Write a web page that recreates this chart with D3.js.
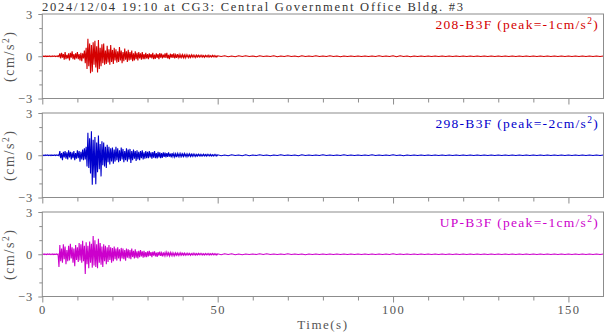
<!DOCTYPE html>
<html><head><meta charset="utf-8">
<script src="https://cdn.jsdelivr.net/npm/d3@7"></script>
<style>
body{margin:0;background:#fff}
svg{display:block}
text{font-family:"Liberation Serif","Times New Roman",serif}
</style>
</head><body>
<svg id="c" width="605" height="334"></svg>
<script>
const title = "2024/12/04 19:10 at CG3: Central Government Office Bldg. #3";
const channels = ["208-B3F", "298-B3F", "UP-B3F"];
const peaks = ["-1", "-2", "-1"];
const colors = ["#d40000", "#0000cc", "#cc00cc"];
const xTicks = [0, 50, 100, 150];
const yTicks = [-3, 0, 3];
const yMinor = [-2, -1, 1, 2];
const unitLabel = "(cm/s";
const xLabel = "Time(s)";

// sampled extremes (cm/s^2): 0..49.75 s every 0.25 s, then 50..160 s every 1 s
const strongStep = 0.25, tailStart = 50, tailStep = 1;

const acc208Strong = [
  0.02,-0.01,0.01,-0.02,0.02,-0.02,0.01,-0.01,0.02,-0.02,0.01,-0.02,0.02,-0.01,0.02,-0.02,0.01,-0.02,0.03,-0.03,
  0.2,-0.15,0.25,-0.1,0.15,-0.25,0.3,-0.2,0.1,-0.15,0.2,-0.3,0.25,-0.1,0.35,-0.2,0.15,-0.25,0.2,-0.15,
  0.3,-0.2,0.15,-0.3,0.25,-0.35,0.2,-0.15,0.4,-0.5,0.6,-0.9,1.25,-0.7,0.9,-1.2,0.8,-1.1,1.0,-0.6,
  1.1,-0.8,0.7,-1.15,1.15,-0.9,0.6,-0.7,0.85,-0.5,0.9,-0.6,0.4,-0.55,0.75,-0.45,0.5,-0.6,0.8,-0.4,
  0.45,-0.55,0.6,-0.3,0.5,-0.45,0.35,-0.4,0.65,-0.3,0.4,-0.5,0.3,-0.35,0.55,-0.25,0.35,-0.4,0.45,-0.3,
  0.3,-0.25,0.4,-0.35,0.2,-0.3,0.35,-0.2,0.25,-0.3,0.3,-0.15,0.2,-0.25,0.3,-0.2,0.15,-0.2,0.25,-0.15,
  0.15,-0.2,0.2,-0.1,0.15,-0.15,0.25,-0.2,0.12,-0.18,0.2,-0.12,0.15,-0.2,0.22,-0.1,0.18,-0.15,0.12,-0.1,
  0.2,-0.12,0.25,-0.15,0.1,-0.2,0.18,-0.1,0.15,-0.12,0.2,-0.15,0.1,-0.12,0.15,-0.1,0.12,-0.14,0.1,-0.08,
  0.12,-0.1,0.08,-0.12,0.1,-0.06,0.09,-0.1,0.07,-0.08,0.1,-0.06,0.08,-0.07,0.06,-0.09,0.08,-0.05,0.07,-0.06,
  0.06,-0.05,0.07,-0.06,0.05,-0.07,0.06,-0.04,0.05,-0.06,0.07,-0.05,0.04,-0.05,0.06,-0.04,0.05,-0.05,0.04,-0.05
];
const acc208Tail = [
  0.03,-0.02,0.03,-0.03,0.02,-0.03,0.03,-0.02,0.03,-0.02,
  0.02,-0.03,0.03,-0.02,0.02,-0.02,0.03,-0.03,0.02,-0.02,
  0.03,-0.02,0.02,-0.03,0.03,-0.02,0.02,-0.02,0.03,-0.02,
  0.02,-0.02,0.03,-0.02,0.02,-0.03,0.02,-0.02,0.02,-0.02,
  0.02,-0.02,0.02,-0.02,0.02,-0.02,0.03,-0.02,0.02,-0.02,
  0.03,-0.03,0.03,-0.02,0.02,-0.03,0.02,-0.02,0.02,-0.02,
  0.02,-0.02,0.02,-0.02,0.02,-0.02,0.02,-0.02,0.02,-0.02,
  0.02,-0.02,0.02,-0.02,0.02,-0.02,0.02,-0.02,0.02,-0.02,
  0.02,-0.02,0.02,-0.02,0.02,-0.02,0.02,-0.02,0.02,-0.02,
  0.02,-0.02,0.02,-0.02,0.02,-0.02,0.02,-0.02,0.02,-0.02,
  0.02,-0.02,0.02,-0.02,0.02,-0.02,0.02,-0.02,0.02,-0.02,
  0.02
];
const acc298Strong = [
  0.02,-0.02,0.01,-0.02,0.02,-0.01,0.02,-0.02,0.01,-0.02,0.02,-0.02,0.01,-0.01,0.02,-0.02,0.02,-0.01,0.02,-0.03,
  0.3,-0.2,0.15,-0.35,0.25,-0.15,0.3,-0.25,0.2,-0.3,0.35,-0.15,0.25,-0.3,0.2,-0.2,0.3,-0.35,0.15,-0.25,
  0.35,-0.2,0.3,-0.45,0.25,-0.3,0.4,-0.35,0.5,-0.3,0.6,-0.8,1.6,-0.9,1.2,-1.3,1.7,-2.1,1.1,-1.6,
  1.3,-2.05,0.9,-1.2,1.4,-1.0,0.8,-1.5,1.0,-0.7,0.9,-0.8,0.6,-0.9,0.75,-0.5,0.6,-0.65,0.5,-0.45,
  0.55,-0.6,0.4,-0.45,0.6,-0.35,0.5,-0.5,0.35,-0.4,0.55,-0.3,0.45,-0.5,0.3,-0.35,0.5,-0.45,0.4,-0.3,
  0.45,-0.55,0.3,-0.35,0.4,-0.25,0.3,-0.4,0.35,-0.3,0.25,-0.35,0.3,-0.2,0.35,-0.3,0.2,-0.25,0.3,-0.2,
  0.25,-0.2,0.3,-0.15,0.2,-0.25,0.22,-0.18,0.3,-0.2,0.15,-0.22,0.25,-0.15,0.2,-0.2,0.15,-0.18,0.2,-0.12,
  0.18,-0.15,0.15,-0.12,0.2,-0.1,0.12,-0.15,0.15,-0.1,0.12,-0.12,0.1,-0.14,0.12,-0.08,0.1,-0.1,0.12,-0.08,
  0.1,-0.08,0.12,-0.07,0.08,-0.1,0.09,-0.06,0.1,-0.08,0.07,-0.07,0.08,-0.06,0.07,-0.08,0.06,-0.06,0.07,-0.05,
  0.06,-0.06,0.05,-0.05,0.07,-0.05,0.05,-0.06,0.06,-0.04,0.05,-0.05,0.06,-0.05,0.04,-0.05,0.05,-0.04,0.05,-0.05
];
const acc298Tail = [
  0.03,-0.03,0.02,-0.03,0.03,-0.02,0.02,-0.03,0.03,-0.03,
  0.02,-0.02,0.03,-0.02,0.02,-0.03,0.02,-0.02,0.03,-0.02,
  0.02,-0.02,0.02,-0.03,0.03,-0.02,0.02,-0.02,0.02,-0.02,
  0.03,-0.02,0.02,-0.02,0.02,-0.02,0.03,-0.02,0.02,-0.02,
  0.02,-0.02,0.02,-0.02,0.03,-0.02,0.02,-0.02,0.02,-0.02,
  0.03,-0.02,0.02,-0.03,0.02,-0.02,0.02,-0.02,0.02,-0.02,
  0.02,-0.02,0.02,-0.02,0.02,-0.02,0.02,-0.02,0.02,-0.02,
  0.02,-0.02,0.02,-0.02,0.02,-0.02,0.02,-0.02,0.02,-0.02,
  0.02,-0.02,0.02,-0.02,0.02,-0.02,0.02,-0.02,0.02,-0.02,
  0.02,-0.02,0.02,-0.02,0.02,-0.02,0.02,-0.02,0.02,-0.02,
  0.02,-0.02,0.02,-0.02,0.02,-0.02,0.02,-0.02,0.02,-0.02,
  0.02
];
const accUPStrong = [
  0.02,-0.01,0.02,-0.02,0.01,-0.02,0.02,-0.01,0.02,-0.02,0.01,-0.02,0.02,-0.02,0.01,-0.01,0.02,-0.02,0.01,-0.9,
  0.65,-0.5,0.4,-0.6,0.7,-0.35,0.55,-0.7,0.3,-0.5,0.6,-0.45,0.75,-0.3,0.5,-0.6,0.4,-0.85,0.65,-0.4,
  0.5,-0.55,0.8,-0.45,0.7,-0.6,0.95,-0.5,0.6,-1.4,0.85,-0.7,0.6,-1.0,0.9,-0.6,0.75,-0.95,1.3,-0.8,
  1.0,-0.9,0.7,-1.0,1.1,-0.6,0.8,-0.75,0.55,-0.9,0.7,-0.5,0.6,-0.7,0.5,-0.55,0.65,-0.4,0.5,-0.6,
  0.45,-0.5,0.55,-0.35,0.4,-0.45,0.5,-0.3,0.35,-0.5,0.45,-0.3,0.4,-0.35,0.3,-0.45,0.4,-0.25,0.35,-0.3,
  0.3,-0.35,0.4,-0.2,0.25,-0.3,0.35,-0.25,0.2,-0.3,0.25,-0.2,0.3,-0.15,0.2,-0.25,0.25,-0.2,0.15,-0.2,
  0.2,-0.15,0.25,-0.12,0.15,-0.2,0.18,-0.1,0.2,-0.15,0.12,-0.18,0.15,-0.1,0.18,-0.12,0.1,-0.15,0.14,-0.1,
  0.12,-0.1,0.15,-0.08,0.1,-0.12,0.12,-0.08,0.1,-0.1,0.08,-0.1,0.1,-0.07,0.09,-0.08,0.08,-0.07,0.1,-0.06,
  0.07,-0.06,0.08,-0.07,0.06,-0.06,0.07,-0.05,0.06,-0.07,0.05,-0.05,0.07,-0.05,0.06,-0.06,0.05,-0.05,0.06,-0.04,
  0.05,-0.04,0.05,-0.05,0.04,-0.05,0.05,-0.04,0.04,-0.04,0.05,-0.05,0.04,-0.04,0.05,-0.04,0.04,-0.04,0.04,-0.05
];
const accUPTail = [
  0.03,-0.03,0.03,-0.02,0.03,-0.03,0.02,-0.03,0.02,-0.02,
  0.02,-0.02,0.03,-0.02,0.03,-0.02,0.02,-0.02,0.02,-0.02,
  0.03,-0.02,0.02,-0.02,0.02,-0.03,0.02,-0.02,0.02,-0.02,
  0.02,-0.02,0.02,-0.02,0.02,-0.02,0.02,-0.02,0.02,-0.02,
  0.02,-0.02,0.02,-0.02,0.02,-0.02,0.02,-0.02,0.02,-0.02,
  0.03,-0.02,0.02,-0.02,0.02,-0.02,0.02,-0.02,0.02,-0.02,
  0.02,-0.02,0.02,-0.02,0.02,-0.02,0.02,-0.02,0.02,-0.02,
  0.02,-0.02,0.02,-0.02,0.02,-0.02,0.02,-0.02,0.02,-0.02,
  0.02,-0.02,0.02,-0.02,0.02,-0.02,0.02,-0.02,0.02,-0.02,
  0.02,-0.02,0.02,-0.02,0.02,-0.02,0.02,-0.02,0.02,-0.02,
  0.02,-0.02,0.02,-0.02,0.02,-0.02,0.02,-0.02,0.02,-0.02,
  0.02
];

const strongSeries = [acc208Strong, acc298Strong, accUPStrong];
const tailSeries = [acc208Tail, acc298Tail, accUPTail];

const svg = d3.select("#c");
const left = 42.3, right = 603.5;
const panelTop0 = 14, panelGap = 99, panelH = 84.5;
const x = d3.scaleLinear().domain([0, 160]).range([left, right]);
const frameColor = "#8c8c8c", textColor = "#555";

svg.append("text")
  .attr("x", 42).attr("y", 10.5)
  .attr("font-size", 12.5).attr("fill", "#333")
  .attr("textLength", 421).attr("lengthAdjust", "spacing")
  .text(title);

channels.forEach((name, i) => {
  const top = panelTop0 + i * panelGap, bottom = top + panelH;
  const y = d3.scaleLinear().domain([-3, 3]).range([bottom, top]);
  const g = svg.append("g");

  const pts = strongSeries[i].map((v, k) => [k * strongStep, v])
    .concat(tailSeries[i].map((v, k) => [tailStart + k * tailStep, v]));
  const line = d3.line().x(d => x(d[0])).y(d => y(d[1]));
  g.append("path").datum(pts)
    .attr("d", line).attr("fill", "none")
    .attr("stroke", colors[i]).attr("stroke-width", 1.1)
    .attr("stroke-linejoin", "miter");

  g.append("rect")
    .attr("x", left).attr("y", top)
    .attr("width", right - left).attr("height", panelH)
    .attr("fill", "none").attr("stroke", frameColor).attr("stroke-width", 1);

  const minorX = d3.range(10, 160, 10).filter(v => v % 50 !== 0);
  const gxm = g.append("g").attr("transform", `translate(0,${bottom})`)
    .call(d3.axisBottom(x).tickValues(minorX).tickSize(4).tickFormat(""));
  const gx = g.append("g").attr("transform", `translate(0,${bottom})`)
    .call(d3.axisBottom(x).tickValues(xTicks).tickSize(6).tickPadding(3)
      .tickFormat(i === 2 ? d3.format("d") : ""));
  [gxm, gx].forEach(a => {
    a.select(".domain").remove();
    a.selectAll("line").attr("stroke", frameColor);
    a.selectAll("text").attr("font-size", 12.5).attr("fill", textColor)
      .attr("font-family", '"Liberation Serif",serif').attr("letter-spacing", 1.4);
  });

  const gym = g.append("g").attr("transform", `translate(${left},0)`)
    .call(d3.axisLeft(y).tickValues(yMinor).tickSize(3).tickFormat(""));
  const gy = g.append("g").attr("transform", `translate(${left},0)`)
    .call(d3.axisLeft(y).tickValues(yTicks).tickSize(4).tickPadding(5).tickFormat(d3.format("d")));
  [gym, gy].forEach(a => {
    a.select(".domain").remove();
    a.selectAll("line").attr("stroke", frameColor);
    a.selectAll("text").attr("font-size", 12.5).attr("fill", textColor)
      .attr("font-family", '"Liberation Serif",serif').attr("letter-spacing", 1);
  });

  const ul = g.append("text")
    .attr("transform", `translate(14,${(top + bottom) / 2}) rotate(-90)`)
    .attr("text-anchor", "middle").attr("font-size", 14)
    .attr("fill", textColor).attr("letter-spacing", 1.6);
  ul.append("tspan").text(unitLabel);
  ul.append("tspan").attr("font-size", 9.5).attr("dy", -5).text("2");
  ul.append("tspan").attr("dy", 5).text(")");

  const lg = g.append("text")
    .attr("x", 599).attr("y", top + 15)
    .attr("text-anchor", "end").attr("font-size", 13.5)
    .attr("fill", colors[i]).attr("letter-spacing", 1.3);
  lg.append("tspan").text(`${name} (peak=${peaks[i]}cm/s`);
  lg.append("tspan").attr("font-size", 9.5).attr("dy", -5).text("2");
  lg.append("tspan").attr("dy", 5).text(")");
});

svg.append("text")
  .attr("x", (left + right) / 2).attr("y", 328.5)
  .attr("text-anchor", "middle").attr("font-size", 13)
  .attr("fill", textColor).attr("letter-spacing", 1.5)
  .text(xLabel);
</script>
</body></html>
